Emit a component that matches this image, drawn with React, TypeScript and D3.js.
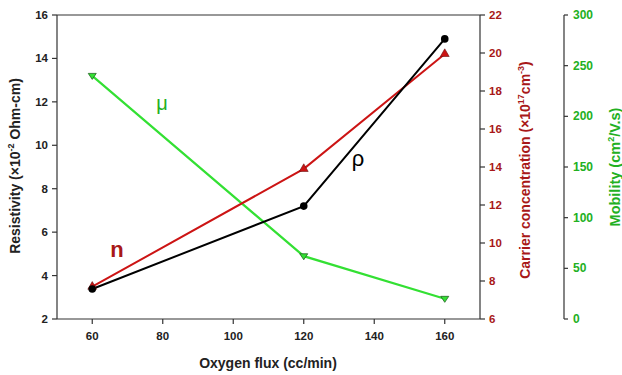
import React from "react";
import * as d3 from "d3";

const oxygenFlux = [60, 120, 160];
const resistivity = [3.38, 7.2, 14.9];
const carrier = [7.7, 13.9, 19.95];
const mobility = [240, 62, 20];

const xTicks = [60, 80, 100, 120, 140, 160];
const resTicks = [2, 4, 6, 8, 10, 12, 14, 16];
const carrierTicks = [6, 8, 10, 12, 14, 16, 18, 20, 22];
const mobilityTicks = [0, 50, 100, 150, 200, 250, 300];

const W = 622;
const H = 375;
const left = 57;
const right = 480;
const top = 15;
const bottom = 319;
const mobAxisX = 564;

const BLACK = "#000000";
const RED = "#cc1414";
const DARKRED = "#a81818";
const GREEN = "#33e033";
const DARKGREEN = "#22b022";
const AXIS = "#333333";
const FONT = "'Liberation Sans', Arial, sans-serif";

export default function App() {
  const x = d3.scaleLinear().domain([50, 170]).range([left, right]);
  const yRes = d3.scaleLinear().domain([2, 16]).range([bottom, top]);
  const yCar = d3.scaleLinear().domain([6, 22]).range([bottom, top]);
  const yMob = d3.scaleLinear().domain([0, 300]).range([bottom, top]);

  const line = (ys: number[], s: d3.ScaleLinear<number, number>) =>
    d3.line<number>().x((_, i) => x(oxygenFlux[i])).y((v) => s(v))(ys) || "";

  const triUp = d3.symbol().type(d3.symbolTriangle).size(34)() || "";
  const triDown = (cx: number, cy: number) => {
    const s = 4;
    return `M${cx - s},${cy - s * 0.6}L${cx + s},${cy - s * 0.6}L${cx},${cy + s * 0.9}Z`;
  };

  return (
    <svg width={W} height={H} style={{ position: "absolute", left: 0, top: 0, background: "#fff" }}>
      {/* frame: left, bottom, top, right */}
      <line x1={left} y1={top} x2={left} y2={bottom} stroke={AXIS} strokeWidth={1.2} />
      <line x1={left} y1={bottom} x2={right} y2={bottom} stroke={AXIS} strokeWidth={1.2} />
      <line x1={left} y1={top} x2={right} y2={top} stroke={AXIS} strokeWidth={1.2} />
      <line x1={right} y1={top} x2={right} y2={bottom} stroke={AXIS} strokeWidth={1.2} />

      {/* x axis */}
      {xTicks.map((t) => (
        <g key={"x" + t}>
          <line x1={x(t)} x2={x(t)} y1={bottom} y2={bottom + 5} stroke={AXIS} strokeWidth={1.2} />
          <text x={x(t)} y={bottom + 21} textAnchor="middle" fontFamily={FONT} fontWeight="bold" fontSize={11.5} fill="#222">
            {t}
          </text>
        </g>
      ))}
      <text x={268} y={368} textAnchor="middle" fontFamily={FONT} fontWeight="bold" fontSize={14} fill="#222">
        Oxygen flux (cc/min)
      </text>

      {/* left axis: resistivity */}
      {resTicks.map((t) => (
        <g key={"r" + t}>
          <line x1={left - 5} x2={left} y1={yRes(t)} y2={yRes(t)} stroke={AXIS} strokeWidth={1.2} />
          <text x={left - 9} y={yRes(t) + 4} textAnchor="end" fontFamily={FONT} fontWeight="bold" fontSize={11.5} fill="#222">
            {t}
          </text>
        </g>
      ))}
      <text
        transform={`translate(20,${(top + bottom) / 2 - 1}) rotate(-90)`}
        textAnchor="middle"
        fontFamily={FONT}
        fontWeight="bold"
        fontSize={14}
        fill="#222"
      >
        Resistivity (×10<tspan dy={-6} fontSize={9}>-2</tspan>
        <tspan dy={6}> Ohm-cm)</tspan>
      </text>

      {/* right axis: carrier concentration */}
      {carrierTicks.map((t) => (
        <g key={"c" + t}>
          <line x1={right} x2={right + 5} y1={yCar(t)} y2={yCar(t)} stroke={AXIS} strokeWidth={1.2} />
          <text x={right + 9} y={yCar(t) + 4} textAnchor="start" fontFamily={FONT} fontWeight="bold" fontSize={11.5} fill={DARKRED}>
            {t}
          </text>
        </g>
      ))}
      <text
        transform={`translate(530,${(top + bottom) / 2 + 3}) rotate(-90)`}
        textAnchor="middle"
        fontFamily={FONT}
        fontWeight="bold"
        fontSize={14}
        fill={DARKRED}
      >
        Carrier concentration (×10<tspan dy={-6} fontSize={9}>17</tspan>
        <tspan dy={6}>cm</tspan>
        <tspan dy={-6} fontSize={9}>-3</tspan>
        <tspan dy={6}>)</tspan>
      </text>

      {/* far right axis: mobility */}
      <line x1={mobAxisX} y1={top} x2={mobAxisX} y2={bottom} stroke={AXIS} strokeWidth={1.2} />
      {mobilityTicks.map((t) => (
        <g key={"m" + t}>
          <line x1={mobAxisX} x2={mobAxisX + 4} y1={yMob(t)} y2={yMob(t)} stroke={AXIS} strokeWidth={1.2} />
          <text x={mobAxisX + 9} y={yMob(t) + 4} textAnchor="start" fontFamily={FONT} fontWeight="bold" fontSize={12} fill={DARKGREEN}>
            {t}
          </text>
        </g>
      ))}
      <text
        transform={`translate(620,${(top + bottom) / 2}) rotate(-90)`}
        textAnchor="middle"
        fontFamily={FONT}
        fontWeight="bold"
        fontSize={14.5}
        fill={DARKGREEN}
      >
        Mobility (cm<tspan dy={-6} fontSize={9}>2</tspan>
        <tspan dy={6}>/V.s)</tspan>
      </text>

      {/* series */}
      <path d={line(mobility, yMob)} fill="none" stroke={GREEN} strokeWidth={2.2} />
      <path d={line(carrier, yCar)} fill="none" stroke={RED} strokeWidth={2} />
      <path d={line(resistivity, yRes)} fill="none" stroke={BLACK} strokeWidth={2} />

      {mobility.map((v, i) => (
        <path key={"mm" + i} d={triDown(x(oxygenFlux[i]), yMob(v))} fill={GREEN} stroke="#226622" strokeWidth={0.8} />
      ))}
      {carrier.map((v, i) => (
        <path
          key={"cm" + i}
          d={triUp}
          transform={`translate(${x(oxygenFlux[i])},${yCar(v)})`}
          fill={RED}
          stroke="#661111"
          strokeWidth={0.6}
        />
      ))}
      {resistivity.map((v, i) => (
        <circle key={"rm" + i} cx={x(oxygenFlux[i])} cy={yRes(v)} r={3.8} fill={BLACK} />
      ))}

      {/* series labels */}
      <text x={162} y={110} textAnchor="middle" fontFamily={FONT} fontSize={20} fill={DARKGREEN}>
        μ
      </text>
      <text x={117} y={257} textAnchor="middle" fontFamily={FONT} fontWeight="bold" fontSize={22} fill={DARKRED}>
        n
      </text>
      <text x={358} y={166} textAnchor="middle" fontFamily={FONT} fontSize={22} fill={BLACK}>
        ρ
      </text>
    </svg>
  );
}
